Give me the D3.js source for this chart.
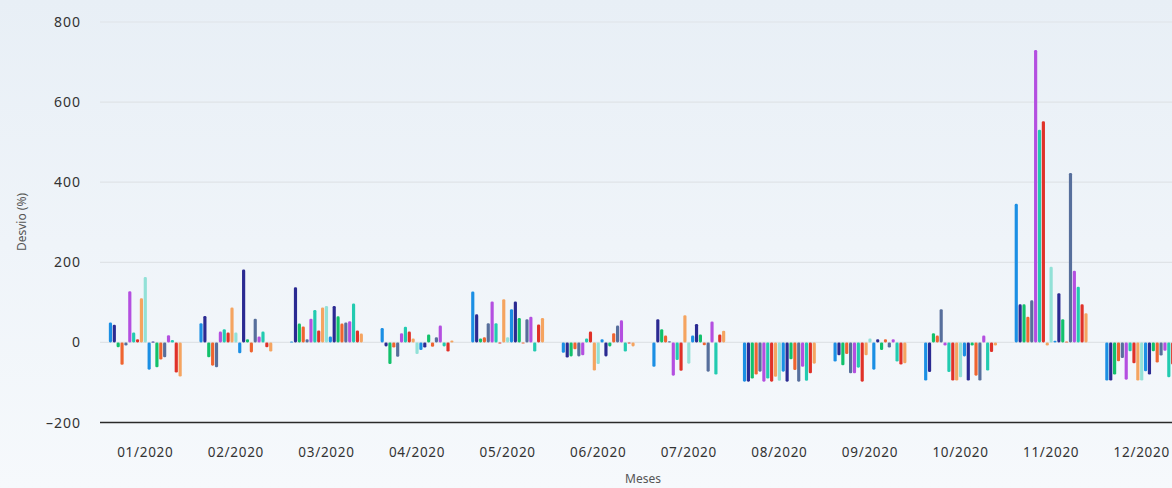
<!DOCTYPE html>
<html>
<head>
<meta charset="utf-8">
<script src="https://cdn.jsdelivr.net/npm/d3@7"></script>
<style>
  html, body { margin: 0; padding: 0; background: #f5f8fb; }
  svg { display: block; font-family: "Noto Sans", "Open Sans", sans-serif; }
  .tick-y { font-size: 14px; fill: #333; letter-spacing: 1px; }
  .tick-x { font-size: 13.5px; fill: #333; letter-spacing: 0.7px; }
  .axis-title { font-size: 12px; fill: #555; }
</style>
</head>
<body>
<svg id="chart"></svg>
<script>
const width = 1172;
const height = 488;

// categories
const months = ["01/2020", "02/2020", "03/2020", "04/2020", "05/2020", "06/2020",
                "07/2020", "08/2020", "09/2020", "10/2020", "11/2020", "12/2020"];

// 19 series per month, in legend order
const m01 = [50, 44, -12, -56, -8, 128, 25, 8, 110, 163, -68, 2, -62, -43, -37, 18, 6, -75, -85];
const m02 = [48, 66, -37, -58, -62, 27, 33, 25, 87, 25, -27, 182, 8, -25, 59, 15, 27, -12, -23];
const m03 = [2, 138, 47, 40, 8, 59, 81, 30, 87, 91, 15, 91, 65, 47, 50, 53, 97, 30, 22];
const m04 = [36, -10, -54, -13, -36, 23, 39, 27, 10, -29, -19, -13, 20, -11, 13, 42, -10, -23, 5];
const m05 = [127, 70, 10, 13, 48, 102, 48, -2, 108, 13, 83, 102, 61, -3, 58, 64, -23, 45, 61];
const m06 = [-26, -38, -35, -17, -35, -32, 10, 27, -70, -54, 8, -35, -10, 23, 42, 55, -23, -3, -10];
const m07 = [-61, 58, 33, 17, 3, -83, -44, -71, 68, -53, 17, 46, 20, -7, -73, 52, -80, 20, 29];
const m08 = [-98, -98, -90, -80, -73, -98, -90, -98, -86, -96, -73, -98, -42, -69, -98, -61, -96, -77, -53];
const m09 = [-48, -32, -57, -29, -77, -77, -63, -98, -32, 10, -68, 8, -19, 8, -13, 8, -48, -55, -52];
const m10 = [-95, -74, 23, 17, 83, -8, -74, -95, -95, -87, -35, -95, -8, -83, -95, 17, -70, -24, -8];
const m11 = [346, 95, 95, 64, 105, 730, 531, 552, -8, 189, 4, 123, 58, 2, 423, 179, 139, 95, 73];
const m12 = [-95, -95, -80, -47, -39, -93, -22, -52, -95, -95, -72, -80, -22, -50, -33, -21, -87, -55, -30];

const values = [m01, m02, m03, m04, m05, m06, m07, m08, m09, m10, m11, m12];

const palette = ["#1b8fe4", "#2b2a92", "#12c16b", "#ef6430", "#576f9c",
                 "#b44fe0", "#22cbb0", "#e03128", "#f5a460", "#92e1d7"];

const yTicks = [-200, 0, 200, 400, 600, 800];

const seriesIdx = d3.range(m01.length);

const plot = { left: 100, right: 1187, top: 22, bottom: 422.5 };

const svg = d3.select("#chart")
    .attr("width", width)
    .attr("height", height);

// background gradient
const grad = svg.append("defs").append("linearGradient")
    .attr("id", "bg")
    .attr("x1", 0).attr("y1", 0).attr("x2", 0).attr("y2", 1);
grad.append("stop").attr("offset", "0%").attr("stop-color", "#e8eff6");
grad.append("stop").attr("offset", "100%").attr("stop-color", "#f6f9fc");

svg.append("rect")
    .attr("width", width)
    .attr("height", height)
    .attr("fill", "url(#bg)");

const y = d3.scaleLinear()
    .domain([-200, 800])
    .range([plot.bottom, plot.top]);

const x0 = d3.scaleBand()
    .domain(months)
    .range([plot.left, plot.right])
    .paddingInner(0.18)
    .paddingOuter(0.09);

const x1 = d3.scaleBand()
    .domain(seriesIdx)
    .range([0, x0.bandwidth()])
    .padding(0.18);

// gridlines
svg.append("g")
    .selectAll("line")
    .data(yTicks.filter(t => t !== -200))
    .enter()
    .append("line")
    .attr("x1", plot.left)
    .attr("x2", width)
    .attr("y1", d => y(d))
    .attr("y2", d => y(d))
    .attr("stroke", "#dfe3e7")
    .attr("stroke-width", 1.2);

// y tick labels
svg.append("g")
    .selectAll("text")
    .data(yTicks)
    .enter()
    .append("text")
    .attr("class", "tick-y")
    .attr("x", 81)
    .attr("y", d => y(d) + 5)
    .attr("text-anchor", "end")
    .text(d => d < 0 ? "\u2013" + Math.abs(d) : d);

// bars
const groups = svg.append("g")
    .selectAll("g")
    .data(months)
    .enter()
    .append("g")
    .attr("transform", d => `translate(${x0(d)},0)`);

groups.selectAll("rect")
    .data((d, i) => values[i].map((v, s) => ({ v, s })))
    .enter()
    .append("rect")
    .attr("x", d => x1(d.s))
    .attr("width", x1.bandwidth())
    .attr("y", d => Math.min(y(d.v), y(0)))
    .attr("height", d => Math.max(1, Math.abs(y(d.v) - y(0))))
    .attr("rx", 1.3)
    .attr("fill", d => palette[d.s % palette.length]);

// bottom axis line
svg.append("line")
    .attr("x1", plot.left)
    .attr("x2", width)
    .attr("y1", y(-200))
    .attr("y2", y(-200))
    .attr("stroke", "#2a2a2a")
    .attr("stroke-width", 1.3);

// x tick labels
svg.append("g")
    .selectAll("text")
    .data(months)
    .enter()
    .append("text")
    .attr("class", "tick-x")
    .attr("x", d => x0(d) + x0.bandwidth() / 2)
    .attr("y", 457)
    .attr("text-anchor", "middle")
    .text(d => d);

// axis titles
svg.append("text")
    .attr("class", "axis-title")
    .attr("transform", `translate(26,222) rotate(-90)`)
    .attr("text-anchor", "middle")
    .text("Desvio (%)");

svg.append("text")
    .attr("class", "axis-title")
    .attr("x", 643)
    .attr("y", 483)
    .attr("text-anchor", "middle")
    .text("Meses");
</script>
</body>
</html>
